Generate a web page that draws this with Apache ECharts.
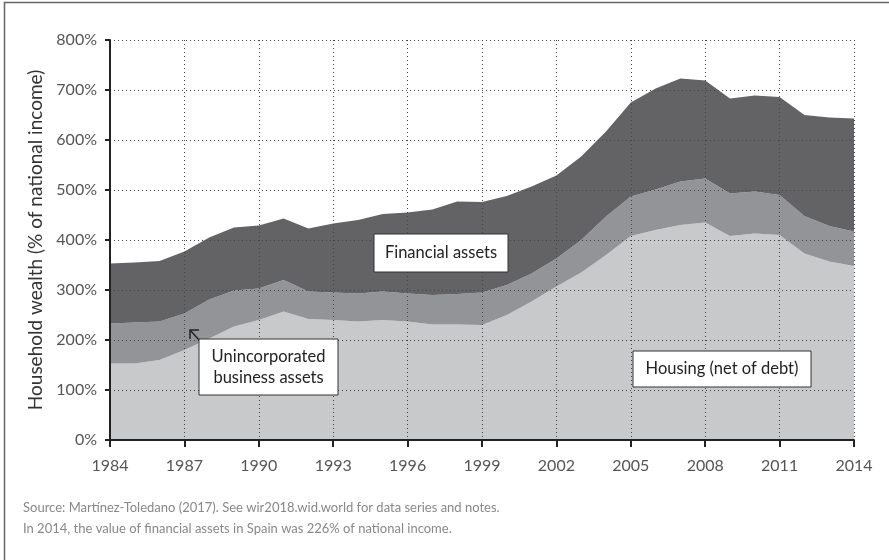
<!DOCTYPE html>
<html>
<head>
<meta charset="utf-8">
<script src="https://cdn.jsdelivr.net/npm/echarts@6/dist/echarts.min.js"></script>
<style>
html,body{margin:0;padding:0;background:#fff;}
#chart{width:889px;height:560px;}
</style>
</head>
<body>
<div id="chart"></div>
<script>
const years = ["1984","1985","1986","1987","1988","1989","1990","1991","1992","1993","1994","1995","1996","1997","1998","1999","2000","2001","2002","2003","2004","2005","2006","2007","2008","2009","2010","2011","2012","2013","2014"];
const housing = [153,153,160,180,203,227,240,257,242,240,237,240,237,231,231,230,250,277,307,335,370,408,420,430,435,408,413,410,373,357,348];
const business = [80,82,77,73,78,72,63,63,55,55,56,57,56,59,61,65,60,56,56,65,77,79,81,87,88,85,84,80,75,71,69];
const financial = [120,120,121,124,124,126,126,123,126,138,147,155,162,171,185,181,178,174,166,167,170,188,202,206,196,190,192,196,202,217,226];
const yTicks = [0,100,200,300,400,500,600,700,800];

const FONT = 'Lato, "Noto Sans", sans-serif';
const chart = echarts.init(document.getElementById('chart'));

function box(x, y, w, h, text) {
  return [
    {type: 'rect', z: 50, shape: {x: x, y: y, width: w, height: h},
     style: {fill: '#fff', stroke: '#333', lineWidth: 1}},
    {type: 'text', z: 51, x: x + w / 2, y: y + h / 2,
     style: {text: text, fill: '#222', font: '16.5px ' + FONT, align: 'center', verticalAlign: 'middle', lineHeight: 21}}
  ];
}

const option = {
  animation: false,
  backgroundColor: '#fff',
  grid: {left: 110, right: 35, top: 40, bottom: 120},
  xAxis: {
    type: 'category', data: years, boundaryGap: false, zlevel: 1,
    axisLine: {lineStyle: {color: '#222', width: 2}},
    axisTick: {interval: 2, length: 7, lineStyle: {color: '#222', width: 2}},
    axisLabel: {interval: 2, color: '#555', fontSize: 16, fontFamily: FONT, margin: 18},
    splitLine: {show: true, interval: 2, lineStyle: {color: '#444', type: [1, 3], width: 1}}
  },
  yAxis: {
    type: 'value', min: yTicks[0], max: yTicks[yTicks.length - 1], interval: 100, zlevel: 1,
    name: 'Household wealth (% of national income)', nameLocation: 'middle', nameGap: 64,
    nameTextStyle: {color: '#333', fontSize: 19, fontFamily: FONT},
    axisLine: {show: true, lineStyle: {color: '#222', width: 2}},
    axisTick: {show: true, length: 5, lineStyle: {color: '#222', width: 2}},
    axisLabel: {color: '#555', fontSize: 16, fontFamily: FONT, margin: 13, formatter: '{value}%'},
    splitLine: {show: true, lineStyle: {color: '#444', type: [1, 3], width: 1}}
  },
  series: [
    {name: 'Housing (net of debt)', type: 'line', stack: 'w', data: housing, symbol: 'none',
     lineStyle: {width: 0}, areaStyle: {color: '#c8c9cb', opacity: 1}},
    {name: 'Unincorporated business assets', type: 'line', stack: 'w', data: business, symbol: 'none',
     lineStyle: {width: 0}, areaStyle: {color: '#939497', opacity: 1}},
    {name: 'Financial assets', type: 'line', stack: 'w', data: financial, symbol: 'none',
     lineStyle: {width: 0}, areaStyle: {color: '#636366', opacity: 1}}
  ],
  graphic: {elements: [
    {type: 'rect', zlevel: 2, shape: {x: 4.5, y: 2.5, width: 1000, height: 1000},
     style: {fill: 'none', stroke: '#666', lineWidth: 1.5}},
    ...box(374, 234, 134, 38, 'Financial assets'),
    ...box(199, 339, 139, 56, 'Unincorporated\nbusiness assets'),
    ...box(633, 351, 178, 36, 'Housing (net of debt)'),
    {type: 'polyline', zlevel: 2, shape: {points: [[200, 341], [190, 330]]}, style: {stroke: '#222', lineWidth: 1.5, fill: 'none'}},
    {type: 'polyline', zlevel: 2, shape: {points: [[199, 330], [190, 330], [190, 339]]}, style: {stroke: '#222', lineWidth: 1.5, fill: 'none'}},
    {type: 'text', x: 23, y: 508, zlevel: 2,
     style: {text: 'Source: Martínez-Toledano (2017). See wir2018.wid.world for data series and notes.', fill: '#888', font: '13px ' + FONT, verticalAlign: 'middle'}},
    {type: 'text', x: 23, y: 529, zlevel: 2,
     style: {text: 'In 2014, the value of financial assets in Spain was 226% of national income.', fill: '#888', font: '13px ' + FONT, verticalAlign: 'middle'}}
  ]}
};
option.graphic.elements.forEach(function (e) { if (e.zlevel === undefined) e.zlevel = 2; });
chart.setOption(option);
</script>
</body>
</html>
